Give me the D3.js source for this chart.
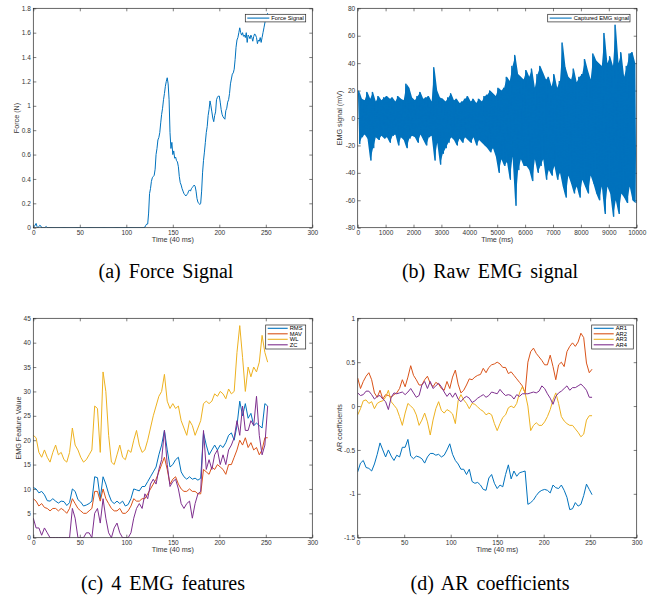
<!DOCTYPE html>
<html>
<head>
<meta charset="utf-8">
<script src="https://cdn.jsdelivr.net/npm/d3@7"></script>
<style>
    body { margin: 0; background: #fff; }
    svg { display: block; }
    .tick text { font-family: "Liberation Sans", Arial, sans-serif; font-size: 6.5px; fill: #333; }
    .tick line { stroke: #262626; stroke-width: 0.6; }
    .axis-label { font-family: "Liberation Sans", Arial, sans-serif; font-size: 7.2px; fill: #333; }
    .legend text { font-family: "Liberation Sans", Arial, sans-serif; font-size: 5.8px; fill: #000; }
    .caption { font-family: "Liberation Serif", "DejaVu Serif", "Times New Roman", serif; font-size: 20px; fill: #000; }
</style>
</head>
<body>
<svg id="fig" width="657" height="601"></svg>
<script>
// ---- (a) force signal, one sample per 40 ms step ----
const forceValues = [
    0, 0.01, 0.02, 0.035, 0.01, 0, 0.01, 0.02, 0.015, 0,
    0, 0, 0, 0.005, 0.01, 0, 0, 0, 0, 0,
    0, 0, 0, 0, 0, 0, 0, 0, 0, 0,
    0, 0, 0, 0, 0, 0, 0, 0, 0, 0,
    0, 0, 0, 0, 0, 0, 0, 0, 0, 0,
    0, 0, 0, 0, 0, 0, 0, 0, 0, 0,
    0, 0, 0, 0, 0, 0, 0, 0, 0, 0,
    0, 0, 0, 0, 0, 0, 0, 0, 0, 0,
    0, 0, 0, 0, 0, 0, 0, 0, 0, 0,
    0, 0, 0, 0, 0, 0, 0, 0, 0, 0,
    0, 0, 0, 0, 0, 0, 0, 0, 0, 0,
    0, 0, 0, 0, 0, 0, 0, 0, 0, 0,
    0.005, 0.02, 0.03, 0.03, 0.12, 0.28, 0.32, 0.38, 0.41, 0.42,
    0.43, 0.48, 0.6, 0.65, 0.72, 0.74, 0.78, 0.86, 0.93, 0.98,
    1.05, 1.1, 1.16, 1.2, 1.23, 1.18, 1.05, 0.78, 0.65, 0.7,
    0.6, 0.63, 0.57, 0.58, 0.55, 0.54, 0.5, 0.42, 0.37, 0.35,
    0.32, 0.3, 0.28, 0.27, 0.26, 0.27, 0.28, 0.3, 0.31, 0.3,
    0.32, 0.33, 0.34, 0.35, 0.34, 0.3, 0.24, 0.21, 0.2, 0.19,
    0.2, 0.3, 0.45, 0.55, 0.62, 0.7, 0.78, 0.83, 0.92, 0.97,
    1.04, 1.0, 0.95, 0.9, 0.87, 0.92, 0.95, 1.05, 1.07, 1.08,
    1.08, 1.03, 0.97, 0.93, 0.91, 0.9, 0.89, 0.96, 0.98, 1.03,
    1.05, 1.1, 1.18, 1.22, 1.26, 1.27, 1.3, 1.38, 1.48, 1.54,
    1.56, 1.6, 1.64, 1.6, 1.58, 1.6, 1.57, 1.58, 1.56, 1.6,
    1.52, 1.58, 1.57, 1.55, 1.58, 1.56, 1.53, 1.57, 1.59, 1.58,
    1.56, 1.51, 1.54, 1.53, 1.56, 1.52, 1.56, 1.6, 1.64, 1.68,
    1.72, 1.74, 1.76
];

// ---- (b) raw EMG, per 100 ms bin: highest and lowest sample ----
const emgMax = [
    20, 14, 13, 19, 14, 19, 12, 16, 13, 15,
    16, 14, 15, 12, 16, 14, 13, 25, 22, 15,
    13, 16, 19, 14, 15, 16, 12, 37, 20, 15,
    14, 12, 15, 18, 13, 14, 11, 12, 14, 16,
    12, 14, 11, 14, 12, 16, 17, 20, 18, 16,
    22, 20, 22, 30, 27, 38, 46, 32, 30, 28,
    35, 30, 36, 22, 32, 38, 33, 28, 30, 23,
    32, 22, 27, 55, 37, 30, 28, 36, 26, 30,
    32, 43, 35, 28, 47, 42, 40, 38, 62, 40,
    45, 38, 68, 40, 48, 30, 38, 47, 48, 40
];
const emgMin = [
    -19, -14, -12, -15, -31, -22, -14, -16, -13, -15,
    -14, -18, -13, -12, -20, -14, -16, -22, -15, -13,
    -14, -18, -12, -16, -20, -14, -13, -31, -18, -34,
    -26, -22, -18, -14, -16, -20, -15, -18, -14, -16,
    -18, -14, -20, -16, -18, -20, -22, -25, -22, -28,
    -40, -30, -35, -32, -45, -28, -64, -38, -30, -35,
    -35, -38, -46, -30, -40, -35, -30, -45, -38, -42,
    -35, -45, -40, -50, -58, -42, -48, -55, -50, -58,
    -45, -50, -55, -42, -48, -55, -60, -50, -70, -50,
    -55, -72, -60, -70, -55, -58, -62, -50, -60, -62
];

// ---- (c) EMG features, read every 3 steps (t = 0, 3, ..., 252) ----
const featureNames = ['RMS', 'MAV', 'WL', 'ZC'];
const rmsValues = [
    10.3, 10, 9.2, 9.5, 8.8, 7.6, 7.5, 8, 7.5, 7.1,
    7.5, 7.4, 6.6, 7.2, 10, 9.5, 7.8, 7.3, 6.5, 6.7,
    7, 7.5, 12.5, 12.3, 8, 12.5, 11, 9, 7.5, 7,
    7.5, 7, 7.5, 6.5, 6.8, 8, 10, 9.8, 9.6, 10.5,
    10.5, 11.5, 12.5, 13.5, 14.5, 17, 19, 22, 18, 14.5,
    15, 16, 16.5, 13.5, 12.5, 12, 12.5, 12, 12.2, 11.8,
    12.2, 21.5, 19, 17, 18, 19, 18, 19, 18.5, 19.5,
    21, 21.5, 20, 23, 28, 25, 27.5, 24.5, 25.5, 23,
    23.5, 23, 22.5, 27.5, 27
];
const mavValues = [
    8, 7.5, 6.5, 7, 6.2, 6, 5.5, 6, 6, 5.5,
    6, 5.6, 5, 6, 8, 7, 6, 5.5, 5, 5,
    5.5, 6, 9.5, 9.5, 7.5, 10, 8, 7, 6, 5.5,
    5.5, 6, 5, 5, 5.5, 6.5, 8, 7.5, 7.5, 8,
    8, 9, 10, 11, 12, 13.5, 15, 16.5, 14, 11,
    12, 12.5, 11, 10, 9.5, 9.5, 10, 9.5, 9.5, 9,
    9, 14, 13.5, 13, 14.5, 14, 15, 14.5, 14, 13,
    15, 15, 16.5, 18, 20, 19, 20.5, 18.5, 19.5, 18,
    18.5, 17, 18, 20.5, 20.5
];
const wlValues = [
    21, 20.5, 17.5, 16.5, 18, 16.5, 15.5, 17.5, 19, 17,
    17.5, 16, 15.5, 17.5, 22.5, 19, 18, 16.5, 15.5, 16,
    17, 18, 27, 26.5, 17.5, 34, 30, 21, 15.5, 15,
    17, 19, 16.5, 16, 18, 17.5, 20, 22, 19, 17.5,
    18, 20, 22.5, 25, 27, 29, 30, 33.5, 28, 26.5,
    27.5, 26.5, 27, 24, 22.5, 21, 24, 23, 21, 22.5,
    24, 27.5, 28, 27.5, 28, 29.5, 29, 30, 29.5, 28.5,
    30.5, 29.5, 30, 38, 43.5, 37, 30, 35, 33, 35,
    34, 36, 41.5, 38, 36
];
const zcValues = [
    4, 2, 2, 0.5, 2, 1, 0, 0, 0, 0,
    0, 0, 0, 0, 6, 4, 0, 0, 0, 1,
    1, 0, 5, 6, 3, 8, 4, 1, 0, 2,
    3, 1, 0, 0, 0, 1, 4, 6, 7, 6,
    9, 8, 11, 12, 11, 14, 16, 22, 15, 10.5,
    11.5, 12, 10, 7, 6, 7, 7.5, 4, 7, 9,
    9.5, 22, 14, 16, 14, 17, 18, 15, 17, 15,
    18, 19, 20.5, 24, 21, 27, 22, 22, 24, 23,
    29, 21, 17, 19, 27
];

// ---- (d) AR coefficients, same time grid ----
const arNames = ['AR1', 'AR2', 'AR3', 'AR4'];
const ar1Values = [
    -0.75, -0.65, -0.62, -0.7, -0.71, -0.74, -0.66, -0.55, -0.42, -0.5,
    -0.58, -0.5, -0.57, -0.62, -0.56, -0.58, -0.47, -0.47, -0.38, -0.57,
    -0.6, -0.57, -0.58, -0.6, -0.65, -0.58, -0.54, -0.54, -0.56, -0.55,
    -0.58, -0.56, -0.5, -0.43, -0.55, -0.62, -0.66, -0.72, -0.72, -0.78,
    -0.72, -0.86, -0.88, -0.87, -0.9, -0.95, -0.96, -0.82, -0.78, -0.88,
    -0.94, -0.9, -0.92, -0.78, -0.67, -0.83, -0.74, -0.8, -0.76, -0.75,
    -0.74, -1.12, -1.1, -1.07, -1.02, -0.98, -0.96, -0.95, -0.96, -0.99,
    -0.9, -0.93, -0.94, -0.9, -0.96, -1.04, -1.18, -1.17, -1.1, -1.14,
    -1.12, -1.02, -0.89, -0.95, -1.01
];
const ar2Values = [
    0.32, 0.2, 0.28, 0.34, 0.38, 0.3, 0.15, 0.1, 0.18, 0.08,
    0.13, 0.12, 0.1, 0.13, 0.15, 0.2, 0.3, 0.22, 0.33, 0.46,
    0.35, 0.3, 0.24, 0.24, 0.3, 0.34, 0.26, 0.22, 0.27, 0.25,
    0.2, 0.18, 0.28, 0.2, 0.33, 0.41, 0.25, 0.15, 0.18, 0.24,
    0.31, 0.3, 0.33, 0.35, 0.36, 0.43, 0.38, 0.44, 0.47, 0.48,
    0.5, 0.48, 0.44, 0.44, 0.37, 0.39, 0.35, 0.31, 0.27, 0.23,
    0.15, 0.5, 0.62, 0.66, 0.6, 0.56, 0.52, 0.47, 0.47, 0.58,
    0.45, 0.3, 0.47, 0.5, 0.45, 0.62, 0.68, 0.72, 0.68, 0.73,
    0.83, 0.78, 0.49, 0.38, 0.42
];
const ar3Values = [
    -0.1, -0.03, 0.06, 0.07, 0.03, 0.05, -0.03, 0.03, 0.05, 0.06,
    0.1, 0.18, 0.05, 0.01, -0.03, -0.12, -0.22, -0.08, 0.03, 0.0,
    -0.03, -0.1, -0.22, -0.16, -0.08, -0.18, -0.33, -0.16, -0.03, 0.05,
    -0.05, -0.08, -0.04, -0.06, -0.09, -0.2, 0.06, 0.13, 0.07, 0.03,
    -0.03, 0.03, 0.02, -0.01, -0.04, -0.06, -0.1, -0.08, -0.1, -0.2,
    -0.28, -0.2, -0.13, -0.1, -0.02, 0.0, -0.02, 0.03, 0.15, 0.22,
    0.15, 0.0, -0.28, -0.22, -0.19, -0.22, -0.22, -0.18, -0.12, -0.04,
    0.07, 0.15, 0.03, -0.12, -0.17, -0.2, -0.22, -0.22, -0.26, -0.3,
    -0.35, -0.32, -0.16, -0.11, -0.11
];
const ar4Values = [
    0.15, 0.12, 0.13, 0.17, 0.17, 0.13, 0.08, 0.11, 0.12, 0.08,
    0.05, -0.04, 0.1, 0.15, 0.14, 0.15, 0.16, 0.13, 0.16, 0.2,
    0.15, 0.1, 0.12, 0.24, 0.28, 0.2, 0.28, 0.2, 0.23, 0.26,
    0.22, 0.16, 0.11, 0.15, 0.1, 0.15, 0.08, 0.05, 0.09, 0.11,
    0.09, 0.04, 0.06, 0.09, 0.11, 0.13, 0.1, 0.12, 0.16, 0.15,
    0.14, 0.19, 0.15, 0.12, 0.13, 0.12, 0.08, 0.13, 0.11, 0.14,
    0.14, 0.14, 0.15, 0.16, 0.15, 0.17, 0.23, 0.2, 0.14, 0.09,
    0.02, 0.11, 0.15, 0.17, 0.2, 0.23, 0.18, 0.21, 0.21, 0.23,
    0.25, 0.22, 0.18, 0.1, 0.1
];

// ---- tick labels ----
const stepTicks = [0, 50, 100, 150, 200, 250, 300];
const msTicks = [0, 1000, 2000, 3000, 4000, 5000, 6000, 7000, 8000, 9000, 10000];
const forceTicks = [0, 0.2, 0.4, 0.6, 0.8, 1, 1.2, 1.4, 1.6, 1.8];
const emgTicks = [-80, -60, -40, -20, 0, 20, 40, 60, 80];
const featureTicks = [0, 5, 10, 15, 20, 25, 30, 35, 40, 45];
const arTicks = [-1.5, -1, -0.5, 0, 0.5, 1];

const colors = ['#0072BD', '#D95319', '#EDB120', '#7E2F8E'];
const svg = d3.select('#fig');
svg.append('rect').attr('width', 657).attr('height', 601).attr('fill', '#fff');

const fmt = d => String(d);
let clipId = 0;

/**
 * One MATLAB-style axes: boxed, ticks pointing inward on all four sides.
 */
function drawPanel(o) {
    const g = svg.append('g');
    const x = d3.scaleLinear().domain(o.xDomain).range([o.left, o.right]);
    const y = d3.scaleLinear().domain(o.yDomain).range([o.bottom, o.top]);

    g.append('g').attr('transform', `translate(0,${o.bottom})`)
        .call(d3.axisBottom(x).tickValues(o.xTicks).tickSizeInner(-3).tickSizeOuter(0).tickPadding(2.5).tickFormat(fmt));
    g.append('g').attr('transform', `translate(0,${o.top})`)
        .call(d3.axisTop(x).tickValues(o.xTicks).tickSizeInner(-3).tickSizeOuter(0).tickFormat(''));
    g.append('g').attr('transform', `translate(${o.left},0)`)
        .call(d3.axisLeft(y).tickValues(o.yTicks).tickSizeInner(-3).tickSizeOuter(0).tickPadding(2.5).tickFormat(fmt));
    g.append('g').attr('transform', `translate(${o.right},0)`)
        .call(d3.axisRight(y).tickValues(o.yTicks).tickSizeInner(-3).tickSizeOuter(0).tickFormat(''));
    g.selectAll('.domain').remove();

    const id = 'clip' + (clipId++);
    g.append('clipPath').attr('id', id).append('rect')
        .attr('x', o.left).attr('y', o.top)
        .attr('width', o.right - o.left).attr('height', o.bottom - o.top);

    const line = d3.line().x(d => x(d[0])).y(d => y(d[1]));
    const plot = g.append('g').attr('clip-path', `url(#${id})`);
    o.series.forEach((s, i) => {
        if (s.band) {
            // dense signal: fill the span each bin covers
            plot.append('path')
                .datum(s.band)
                .attr('fill', colors[i])
                .attr('d', d3.area().x(d => x(d.t)).y0(d => y(d.lo)).y1(d => y(d.hi)));
        }
        plot.append('path')
            .datum(s.points)
            .attr('fill', 'none')
            .attr('stroke', colors[i])
            .attr('stroke-width', 1)
            .attr('stroke-linejoin', 'round')
            .attr('d', line);
    });

    g.append('rect')
        .attr('x', o.left).attr('y', o.top)
        .attr('width', o.right - o.left).attr('height', o.bottom - o.top)
        .attr('fill', 'none').attr('stroke', '#262626').attr('stroke-width', 0.7);

    g.append('text').attr('class', 'axis-label')
        .attr('x', (o.left + o.right) / 2).attr('y', o.bottom + 14)
        .attr('text-anchor', 'middle').text(o.xLabel);
    g.append('text').attr('class', 'axis-label')
        .attr('transform', `translate(${o.yLabelX},${(o.top + o.bottom) / 2}) rotate(-90)`)
        .attr('text-anchor', 'middle').text(o.yLabel);

    // legend
    const lg = g.append('g').attr('class', 'legend');
    const L = o.legend;
    lg.append('rect')
        .attr('x', L.x).attr('y', L.y).attr('width', L.w).attr('height', L.h)
        .attr('fill', '#fff').attr('stroke', '#262626').attr('stroke-width', 0.7);
    o.series.forEach((s, i) => {
        const cy = L.y + L.first + i * L.step;
        lg.append('line')
            .attr('x1', L.x + 2).attr('x2', L.x + 2 + L.lineLen)
            .attr('y1', cy).attr('y2', cy)
            .attr('stroke', colors[i]).attr('stroke-width', 1.1);
        lg.append('text')
            .attr('x', L.x + L.lineLen + 4).attr('y', cy + 2)
            .text(s.name);
    });

    svg.append('text').attr('class', 'caption')
        .attr('font-family', '"Liberation Serif", "DejaVu Serif", serif')
        .attr('x', o.captionX).attr('y', o.captionY)
        .attr('text-anchor', 'middle').attr('word-spacing', 3)
        .text(o.caption);
}

const featureTime = d3.range(0, 253, 3);
const pair = (vals, ts) => vals.map((v, i) => [ts[i], v]);

// EMG: zig-zag through each bin's high and low sample, plus the filled span
const emgPoints = [];
emgMax.forEach((hi, i) => {
    emgPoints.push([i * 100 + 25, hi]);
    emgPoints.push([i * 100 + 75, emgMin[i]]);
});
const emgBand = emgMax.map((hi, i) => ({ t: i * 100 + 50, hi: hi, lo: emgMin[i] }));

drawPanel({
    left: 33.3, right: 312.3, top: 8.3, bottom: 227.7,
    xDomain: [0, 300], yDomain: [0, 1.8], xTicks: stepTicks, yTicks: forceTicks,
    xLabel: 'Time (40 ms)', yLabel: 'Force (N)', yLabelX: 19,
    series: [{ name: 'Force Signal', points: forceValues.map((v, i) => [i, v]) }],
    legend: { x: 245.3, y: 14.3, w: 60.4, h: 7.6, first: 3.8, step: 0, lineLen: 22 },
    caption: '(a) Force Signal', captionX: 166, captionY: 278
});

drawPanel({
    left: 357.7, right: 636.7, top: 8.3, bottom: 227.7,
    xDomain: [0, 10000], yDomain: [-80, 80], xTicks: msTicks, yTicks: emgTicks,
    xLabel: 'Time (ms)', yLabel: 'EMG signal (mV)', yLabelX: 342,
    series: [{ name: 'Captured EMG signal', points: emgPoints, band: emgBand }],
    legend: { x: 547.7, y: 14.3, w: 82.3, h: 7.6, first: 3.8, step: 0, lineLen: 22 },
    caption: '(b) Raw EMG signal', captionX: 490, captionY: 278
});

drawPanel({
    left: 33.3, right: 312.3, top: 318.3, bottom: 537.7,
    xDomain: [0, 300], yDomain: [0, 45], xTicks: stepTicks, yTicks: featureTicks,
    xLabel: 'Time (40 ms)', yLabel: 'EMG Feature Value', yLabelX: 21,
    series: [rmsValues, mavValues, wlValues, zcValues].map((vals, i) => ({ name: featureNames[i], points: pair(vals, featureTime) })),
    legend: { x: 265.7, y: 325, w: 40, h: 24, first: 3.3, step: 5.5, lineLen: 20 },
    caption: '(c) 4 EMG features', captionX: 163, captionY: 590
});

drawPanel({
    left: 357.7, right: 636.7, top: 318.3, bottom: 537.7,
    xDomain: [0, 300], yDomain: [-1.5, 1], xTicks: stepTicks, yTicks: arTicks,
    xLabel: 'Time (40 ms)', yLabel: 'AR coefficients', yLabelX: 342,
    series: [ar1Values, ar2Values, ar3Values, ar4Values].map((vals, i) => ({ name: arNames[i], points: pair(vals, featureTime) })),
    legend: { x: 591.7, y: 325, w: 41.6, h: 24, first: 3.3, step: 5.5, lineLen: 20 },
    caption: '(d) AR coefficients', captionX: 490, captionY: 590
});
</script>
</body>
</html>
